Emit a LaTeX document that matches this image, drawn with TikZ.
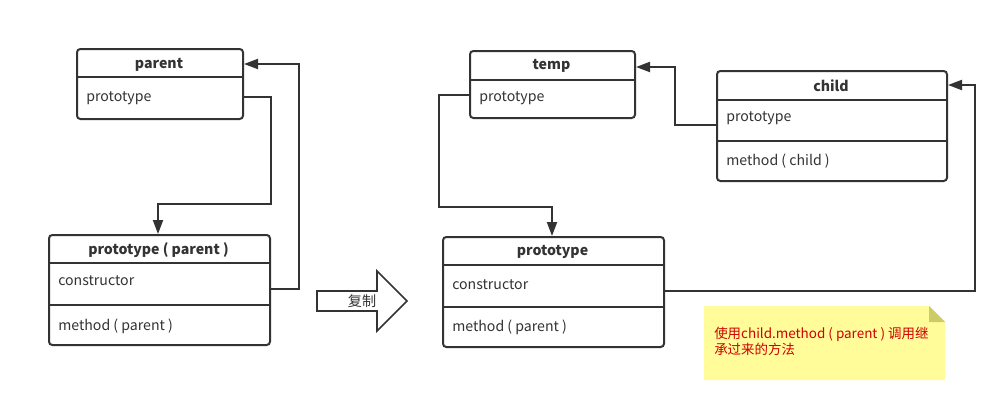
\documentclass[tikz,border=0pt]{standalone}
\usepackage{fontspec}
\setmainfont{Noto Sans CJK SC}
\usetikzlibrary{arrows.meta}
\definecolor{ln}{HTML}{333333}
\definecolor{notey}{HTML}{FFFC99}
\definecolor{notefold}{HTML}{CCCC66}
\definecolor{notered}{HTML}{D00000}
\begin{document}
\begin{tikzpicture}[x=0.75pt,y=-0.75pt,
  box/.style={draw=ln, line width=1.5pt, rounded corners=2.5pt, anchor=north west, inner sep=0pt},
  sep/.style={draw=ln, line width=1.5pt},
  title/.style={font=\bfseries\fontsize{10.6}{12}\selectfont, text=ln, inner sep=0pt},
  field/.style={font=\fontsize{10.6}{12}\selectfont, text=ln, anchor=west, inner sep=0pt},
  conn/.style={draw=ln, line width=1.5pt, -{Triangle[length=10.5pt,width=7.5pt]}}]
\useasboundingbox[fill=white] (0,0) rectangle (1006,411);

% parent
\node[box, minimum width=124.5pt, minimum height=52.5pt] (parent) at (76,48) {};
\draw[sep] (parent.west |- 0,77) -- (parent.east |- 0,77);
\node[title] (parentT) at (159,64.5) {parent};
\node[field] (parentP) at (86,98.5) {prototype};

% prototype ( parent )
\node[box, minimum width=165.75pt, minimum height=82.5pt] (pp) at (48,234) {};
\draw[sep] (pp.west |- 0,263) -- (pp.east |- 0,263);
\draw[sep] (pp.west |- 0,305) -- (pp.east |- 0,305);
\node[title] (ppT) at (158.5,250.5) {prototype ( parent )};
\node[field] (ppC) at (58,280.5) {constructor};
\node[field] (ppM) at (58,326.5) {method ( parent )};

% temp
\node[box, minimum width=123.75pt, minimum height=50.25pt] (temp) at (469,50) {};
\draw[sep] (temp.west |- 0,80) -- (temp.east |- 0,80);
\node[title] (tempT) at (551.5,65.5) {temp};
\node[field] (tempP) at (479,98.5) {prototype};

% child
\node[box, minimum width=172.5pt, minimum height=82.5pt] (child) at (716,70) {};
\draw[sep] (child.west |- 0,100) -- (child.east |- 0,100);
\draw[sep] (child.west |- 0,141) -- (child.east |- 0,141);
\node[title] (childT) at (831,85.5) {child};
\node[field] (childP) at (726,118.5) {prototype};
\node[field] (childM) at (726,161.5) {method ( child )};

% prototype
\node[box, minimum width=165.75pt, minimum height=82.5pt] (proto) at (442,236) {};
\draw[sep] (proto.west |- 0,265) -- (proto.east |- 0,265);
\draw[sep] (proto.west |- 0,307) -- (proto.east |- 0,307);
\node[title] (protoT) at (552.5,251.5) {prototype};
\node[field] (protoC) at (452,284.5) {constructor};
\node[field] (protoM) at (452,327.5) {method ( parent )};

% copy arrow
\draw[draw=ln, line width=1.2pt, fill=white, line join=miter]
  (317,291) -- (377,291) -- (377,271) -- (407,301) -- (377,331) -- (377,311) -- (317,311) -- cycle;
\node[font=\fontsize{10.6}{12}\selectfont, text=ln, inner sep=0pt] (copy) at (362,301.5) {复制};

% note
\fill[notey] (704,306) -- (929,306) -- (945,322) -- (945,380) -- (704,380) -- cycle;
\fill[notefold] (929,306) -- (945,322) -- (929,322) -- cycle;
\node[anchor=north west, inner sep=0pt, align=left, text=notered,
      font=\fontsize{10.1}{12}\selectfont] (note) at (714,327)
  {使用child.method ( parent ) 调用继\\承过来的方法};

% connectors
\draw[conn] (parent.east |- 0,97) -- (271,97) -- (271,204) -- (158,204) -- (pp.north -| 158,0);
\draw[conn] (pp.east |- 0,289) -- (299,289) -- (299,64) -- (parent.east |- 0,64);
\draw[conn] (child.west |- 0,125) -- (675,125) -- (675,67) -- (temp.east |- 0,67);
\draw[conn] (temp.west |- 0,95) -- (439,95) -- (439,207) -- (552,207) -- (proto.north -| 552,0);
\draw[conn] (proto.east |- 0,291) -- (975,291) -- (975,85) -- (child.east |- 0,85);
\end{tikzpicture}
\end{document}
